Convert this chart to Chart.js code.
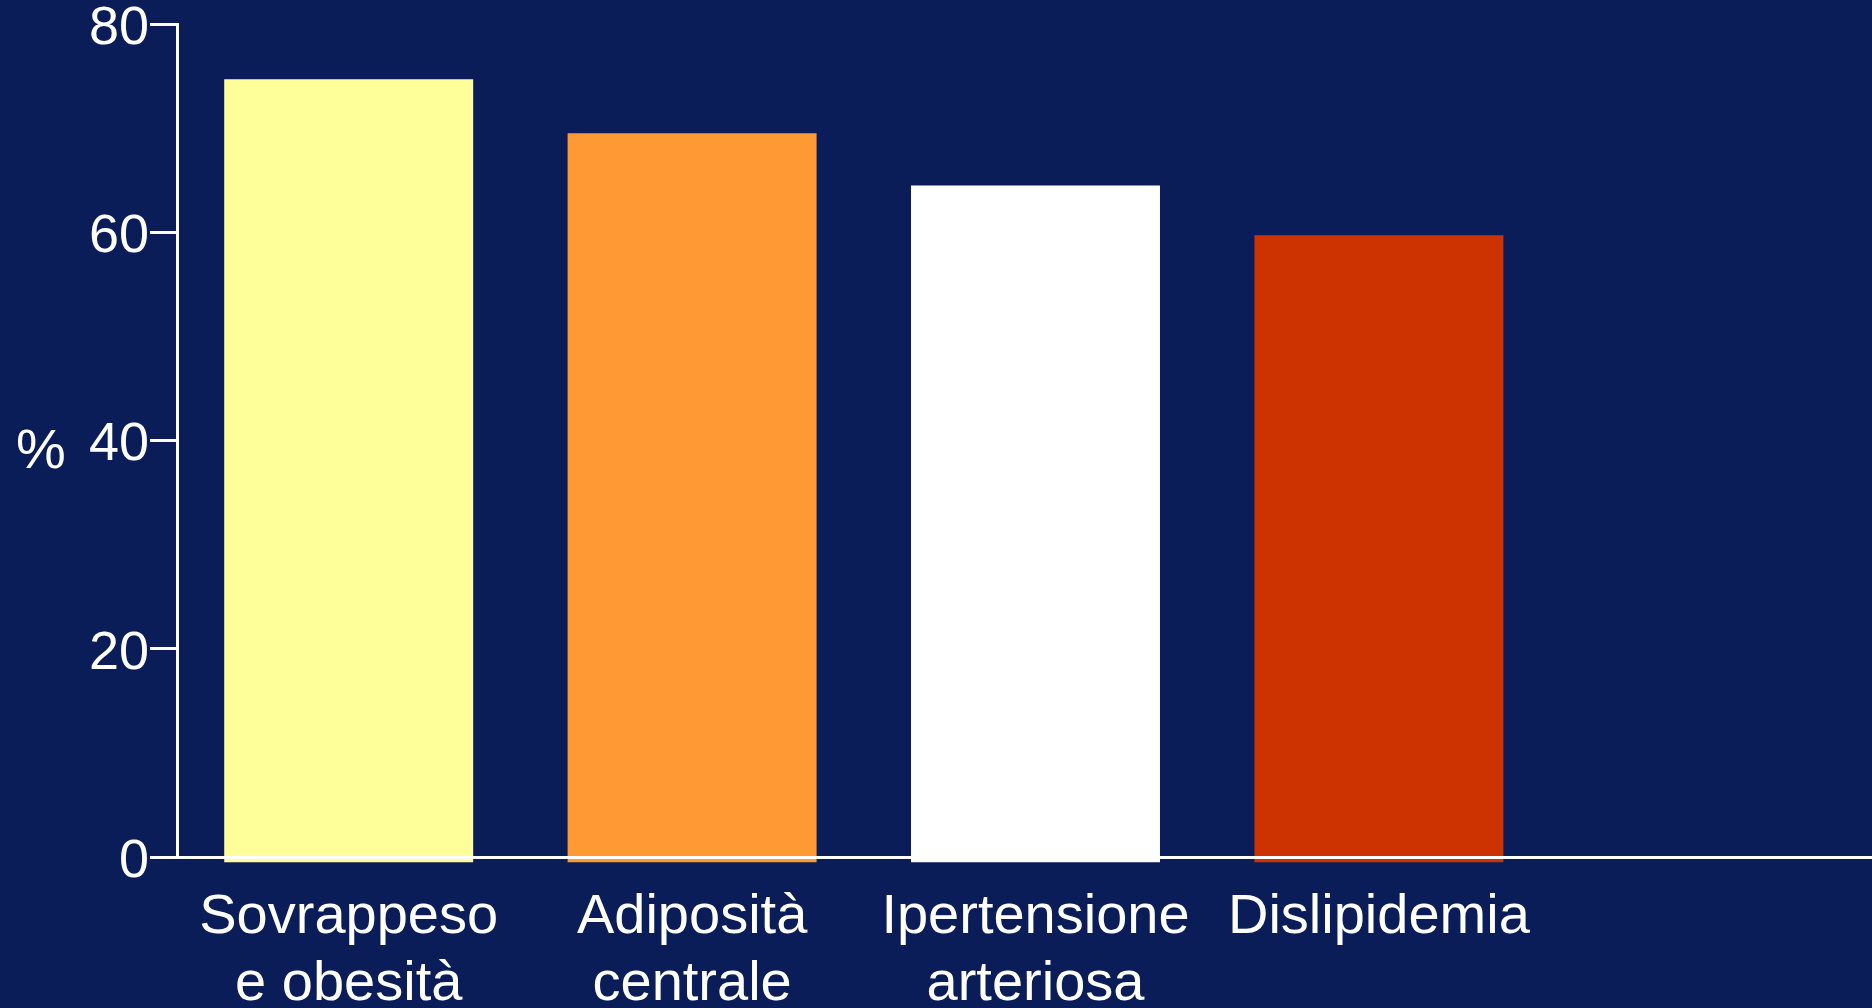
<!DOCTYPE html>
<html>
<head>
<meta charset="utf-8">
<script src="https://cdn.jsdelivr.net/npm/chart.js@4/dist/chart.umd.min.js"></script>
<style>
  html, body { margin: 0; padding: 0; background: #0A1D58; overflow: hidden; width: 1872px; height: 1008px; }
  #wrap { width: 1894px; height: 1008px; }
  canvas { display: block; }
</style>
</head>
<body>
<div id="wrap"><canvas id="c" width="1894" height="1008"></canvas></div>
<script>
const categories = [
  ['Sovrappeso', 'e obesità'],
  ['Adiposità', 'centrale'],
  ['Ipertensione', 'arteriosa'],
  ['Dislipidemia'],
  ''
];
const values = [74.7, 69.5, 64.5, 59.7, null];
const barColors = ['#FFFF99', '#FF9933', '#FFFFFF', '#CC3300', '#000000'];
const yTicks = [0, 20, 40, 60, 80];
const yTitle = '%';

const FONT = '"Liberation Sans", Arial, Helvetica, sans-serif';
const BG = '#0A1D58';

const bgPlugin = {
  id: 'bg',
  beforeDraw(chart) {
    const ctx = chart.ctx;
    ctx.save();
    ctx.fillStyle = BG;
    ctx.fillRect(0, 0, chart.width, chart.height);
    ctx.restore();
  }
};

const yTitlePlugin = {
  id: 'ytitle',
  afterDraw(chart) {
    const ctx = chart.ctx;
    const y = chart.scales.y;
    ctx.save();
    ctx.fillStyle = '#FFFFFF';
    ctx.font = '56px ' + FONT;
    ctx.textAlign = 'center';
    ctx.textBaseline = 'middle';
    ctx.fillText(yTitle, 41, y.getPixelForValue(40) + 12);
    ctx.restore();
  }
};

new Chart(document.getElementById('c'), {
  type: 'bar',
  data: {
    labels: categories,
    datasets: [{
      data: values,
      backgroundColor: barColors,
      borderWidth: 0,
      base: -0.5,
      clip: false,
      barPercentage: 0.725,
      categoryPercentage: 1.0
    }]
  },
  options: {
    responsive: false,
    animation: false,
    events: [],
    layout: { padding: { top: 24, left: 0, right: 0, bottom: 0 } },
    plugins: {
      legend: { display: false },
      tooltip: { enabled: false },
      title: { display: false }
    },
    scales: {
      x: {
        type: 'category',
        offset: true,
        grid: { display: false, drawTicks: false, drawOnChartArea: false },
        border: { display: true, color: '#FFFFFF', width: 3, z: 1 },
        ticks: {
          color: '#FFFFFF',
          font: { family: FONT, size: 56, lineHeight: 1.2 },
          padding: 27,
          maxRotation: 0,
          minRotation: 0,
          autoSkip: false
        },
        afterFit(scale) { scale.height = 151; }
      },
      y: {
        min: 0,
        max: 80,
        afterBuildTicks(scale) { scale.ticks = yTicks.map(v => ({ value: v })); },
        grid: {
          display: true,
          drawOnChartArea: false,
          drawTicks: true,
          tickLength: 27,
          color: '#FFFFFF',
          lineWidth: 3
        },
        border: { display: true, color: '#FFFFFF', width: 3, z: 1 },
        ticks: {
          color: '#FFFFFF',
          font: { family: FONT, size: 54, lineHeight: 0.8 },
          padding: 1,
          labelOffset: 5
        },
        afterFit(scale) { scale.width = 177; }
      }
    }
  },
  plugins: [bgPlugin, yTitlePlugin]
});
</script>
</body>
</html>
